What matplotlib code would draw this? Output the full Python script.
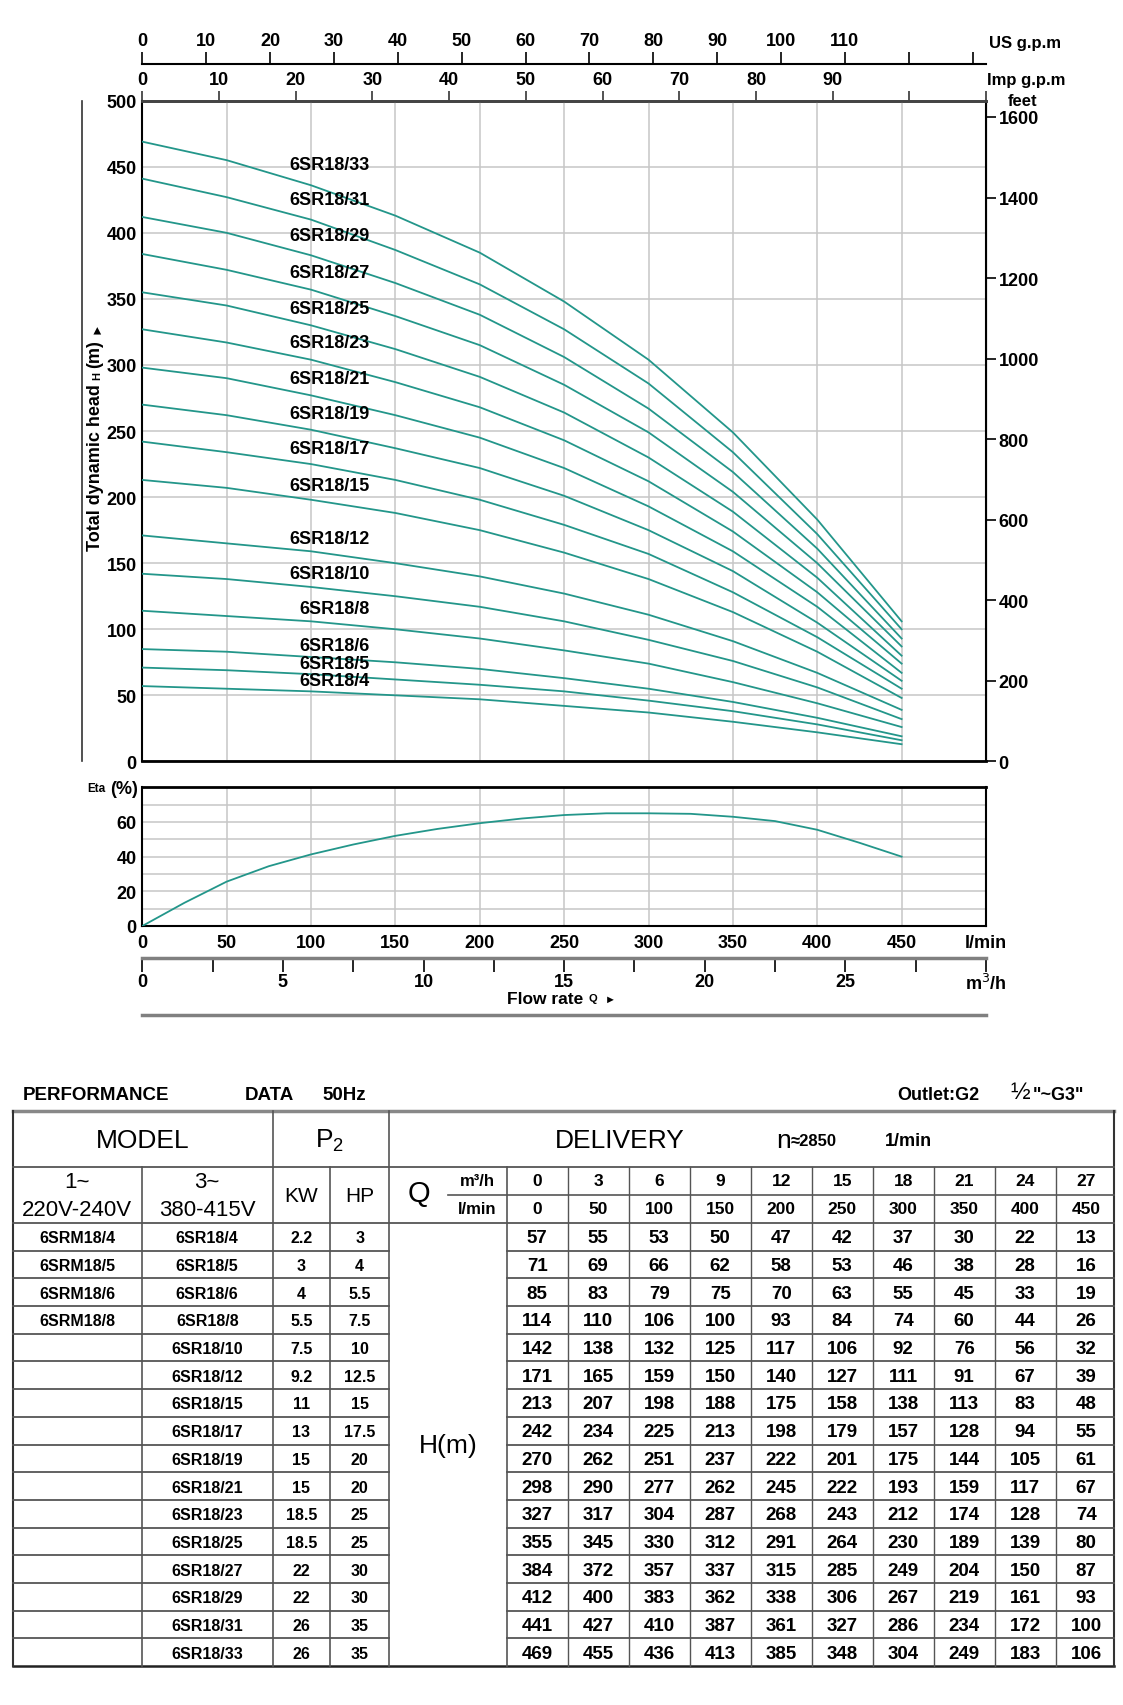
import numpy as np
import matplotlib
matplotlib.use('Agg')
import matplotlib.pyplot as plt

plt.rcParams['font.family'] = ['Liberation Sans', 'DejaVu Sans']

# ---- data ----
Q_m3h = [0, 3, 6, 9, 12, 15, 18, 21, 24, 27]
Q_lpm = [0, 50, 100, 150, 200, 250, 300, 350, 400, 450]

models_1ph = ['6SRM18/4', '6SRM18/5', '6SRM18/6', '6SRM18/8']
models_3ph = ['6SR18/4', '6SR18/5', '6SR18/6', '6SR18/8', '6SR18/10', '6SR18/12',
              '6SR18/15', '6SR18/17', '6SR18/19', '6SR18/21', '6SR18/23', '6SR18/25',
              '6SR18/27', '6SR18/29', '6SR18/31', '6SR18/33']
kw = ['2.2', '3', '4', '5.5', '7.5', '9.2', '11', '13', '15', '15', '18.5', '18.5',
      '22', '22', '26', '26']
hp = ['3', '4', '5.5', '7.5', '10', '12.5', '15', '17.5', '20', '20', '25', '25',
      '30', '30', '35', '35']

H_4 = [57, 55, 53, 50, 47, 42, 37, 30, 22, 13]
H_5 = [71, 69, 66, 62, 58, 53, 46, 38, 28, 16]
H_6 = [85, 83, 79, 75, 70, 63, 55, 45, 33, 19]
H_8 = [114, 110, 106, 100, 93, 84, 74, 60, 44, 26]
H_10 = [142, 138, 132, 125, 117, 106, 92, 76, 56, 32]
H_12 = [171, 165, 159, 150, 140, 127, 111, 91, 67, 39]
H_15 = [213, 207, 198, 188, 175, 158, 138, 113, 83, 48]
H_17 = [242, 234, 225, 213, 198, 179, 157, 128, 94, 55]
H_19 = [270, 262, 251, 237, 222, 201, 175, 144, 105, 61]
H_21 = [298, 290, 277, 262, 245, 222, 193, 159, 117, 67]
H_23 = [327, 317, 304, 287, 268, 243, 212, 174, 128, 74]
H_25 = [355, 345, 330, 312, 291, 264, 230, 189, 139, 80]
H_27 = [384, 372, 357, 337, 315, 285, 249, 204, 150, 87]
H_29 = [412, 400, 383, 362, 338, 306, 267, 219, 161, 93]
H_31 = [441, 427, 410, 387, 361, 327, 286, 234, 172, 100]
H_33 = [469, 455, 436, 413, 385, 348, 304, 249, 183, 106]
heads = [H_4, H_5, H_6, H_8, H_10, H_12, H_15, H_17, H_19, H_21, H_23, H_25,
         H_27, H_29, H_31, H_33]

# where the curve names sit (head value, m)
label_y = [61, 74, 88, 116, 142, 169, 209, 237, 263, 290, 317, 343, 370, 398, 425, 452]

# efficiency curve
eta_q = [0, 25, 50, 75, 100, 125, 150, 175, 200, 225, 250, 275, 300, 325, 350, 375, 400, 425, 450]
eta = [0, 13.4, 25.6, 34.5, 41.3, 47, 52, 56, 59.3, 62, 64, 65, 65, 64.7, 63, 60.5, 55.5, 48, 40]

TEAL = '#23968a'
W, H = 1123, 1706


def box(x0, y0, x1, y1):
    return [x0 / W, 1 - y1 / H, (x1 - x0) / W, (y1 - y0) / H]


fig = plt.figure(figsize=(W / 100, H / 100), dpi=100)

# ---- main head chart ----
ax = fig.add_axes(box(142.3, 101.7, 986, 762.4))
for h in heads:
    ax.plot(Q_lpm, h, color=TEAL, lw=1.3, zorder=3)
for name, y in zip(models_3ph, label_y):
    ax.text(135, y, name, ha='right', va='center', fontsize=13, weight='bold', zorder=4)
ax.set_xlim(0, 500)
ax.set_ylim(0, 500)
ax.set_xticks(range(0, 501, 50))
ax.set_xticklabels([])
ax.set_yticks(range(0, 501, 50))
ax.tick_params(length=0, labelsize=13, pad=4)
for t in ax.get_yticklabels():
    t.set_fontweight('bold')
ax.grid(color='#c6c6c6', lw=1.1)
ax.set_axisbelow(True)
ax.spines['top'].set_color('#444444')
ax.spines['top'].set_linewidth(2)
ax.spines['bottom'].set_linewidth(2)
ax.spines['left'].set_linewidth(1.5)
ax.spines['right'].set_linewidth(1.5)

imp = ax.secondary_xaxis('top', functions=(lambda x: x / 4.546, lambda x: x * 4.546))
imp.set_xticks(list(range(0, 101, 10)) + [500 / 4.546])
imp.set_xticklabels([str(v) for v in range(0, 91, 10)] + ['', ''])
imp.tick_params(length=7, width=1.3, color='#444444', labelsize=13, pad=2)
imp.spines['top'].set_color('#444444')
imp.spines['top'].set_linewidth(2)
imp.spines['bottom'].set_visible(False)
for t in imp.get_xticklabels():
    t.set_fontweight('bold')

us = ax.secondary_xaxis(1 + (101.7 - 65) / 660.7,
                        functions=(lambda x: x / 3.785, lambda x: x * 3.785))
us.set_xticks(range(0, 131, 10))
us.set_xticklabels([str(v) for v in range(0, 111, 10)] + ['', ''])
us.tick_params(length=9, width=1.2, labelsize=13, pad=2)
us.spines['top'].set_linewidth(1.5)
us.spines['bottom'].set_visible(False)
for t in us.get_xticklabels():
    t.set_fontweight('bold')

ft = ax.secondary_yaxis('right', functions=(lambda m: m / 0.3048, lambda f: f * 0.3048))
ft.set_yticks(range(0, 1601, 200))
ft.tick_params(length=7, width=1.2, labelsize=13, pad=2)
for t in ft.get_yticklabels():
    t.set_fontweight('bold')

# ---- efficiency chart ----
ax2 = fig.add_axes(box(142.3, 788.3, 986, 927))
ax2.plot(eta_q, eta, color=TEAL, lw=1.3, zorder=3)
ax2.set_xlim(0, 500)
ax2.set_ylim(0, 80)
ax2.set_xticks(range(0, 501, 50))
ax2.set_xticklabels([str(v) for v in range(0, 451, 50)] + ['l/min'])
ax2.set_yticks([0, 20, 40, 60])
ax2.set_yticks([10, 30, 50, 70], minor=True)
ax2.tick_params(which='both', length=0, labelsize=13, pad=4)
ax2.tick_params(axis='x', pad=6)
for t in ax2.get_xticklabels() + ax2.get_yticklabels():
    t.set_fontweight('bold')
ax2.grid(which='both', color='#c6c6c6', lw=1.1)
ax2.set_axisbelow(True)
for s in ax2.spines.values():
    s.set_linewidth(1.5)
ax2.spines['top'].set_linewidth(2)

m3 = ax2.secondary_xaxis(-(959 - 927) / 138.7, functions=(lambda x: x * 0.06, lambda x: x / 0.06))
m3.set_xticks(range(0, 31, 5))
m3.set_xticklabels(['0', '5', '10', '15', '20', '25', 'm$^3$/h'])
m3.set_xticks(np.arange(2.5, 30, 5), minor=True)
m3.tick_params(which='both', length=10, width=1.2, labelsize=13, pad=1)
m3.spines['bottom'].set_color('#808080')
m3.spines['bottom'].set_linewidth(2.5)
m3.spines['top'].set_visible(False)
for t in m3.get_xticklabels():
    t.set_fontweight('bold')

# ---- overlay in pixel coords for loose text and the table ----
ov = fig.add_axes([0, 0, 1, 1], zorder=10)
ov.set_xlim(0, W)
ov.set_ylim(H, 0)
ov.axis('off')
ov.patch.set_visible(False)

ov.plot([81.7, 81.7], [102, 762], color='#333333', lw=1.2)
ov.plot([142.3, 986], [1016, 1016], color='#808080', lw=2.5)

ov.text(989, 43, 'US g.p.m', ha='left', va='center', fontsize=12, weight='bold')
ov.text(987, 80, 'Imp g.p.m', ha='left', va='center', fontsize=12, weight='bold')
ov.text(1023, 101, 'feet', ha='center', va='center', fontsize=12, weight='bold')

# y label with small H
t1 = ov.text(95, 551, 'Total dynamic head', rotation=90, ha='center', va='bottom',
             fontsize=13, weight='bold')
t2 = ov.annotate('H', xy=(0.5, 1), xycoords=t1, xytext=(1.5, 3), textcoords='offset points',
                 rotation=90, ha='center', va='bottom', fontsize=8, weight='bold')
t3 = ov.annotate('(m)', xy=(0.5, 1), xycoords=t2, xytext=(-1.5, 3), textcoords='offset points',
                 rotation=90, ha='center', va='bottom', fontsize=13, weight='bold')
ov.annotate('\u25ba', xy=(0.5, 1), xycoords=t3, xytext=(1, 4), textcoords='offset points',
            rotation=90, ha='center', va='bottom', fontsize=9)

# eta label
e1 = ov.text(138, 789, '(%)', ha='right', va='center', fontsize=13, weight='bold')
ov.annotate('Eta', xy=(0, 0.12), xycoords=e1, xytext=(-3, 0), textcoords='offset points',
            ha='right', va='bottom', fontsize=8.5, weight='bold')

# flow rate label
f1 = ov.text(507, 1000, 'Flow rate', ha='left', va='center', fontsize=12.5, weight='bold')
f2 = ov.annotate('Q', xy=(1, 0.2), xycoords=f1, xytext=(4, 0), textcoords='offset points',
                 ha='left', va='bottom', fontsize=8, weight='bold')
ov.annotate('\u25ba', xy=(1, 0), xycoords=f2, xytext=(5, 0), textcoords='offset points',
            ha='left', va='bottom', fontsize=8)

# ---- table ----
ov.text(23, 1095, 'PERFORMANCE', ha='left', va='center', fontsize=13.5, weight='bold')
ov.text(245, 1095, 'DATA', ha='left', va='center', fontsize=13.5, weight='bold')
ov.text(322, 1095, '50Hz', ha='left', va='center', fontsize=13.5, weight='bold')
ov.text(897, 1095, 'Outlet:G2', ha='left', va='center', fontsize=13, weight='bold')
ov.text(1010, 1093, '\u00bd', ha='left', va='center', fontsize=17)
ov.text(1033, 1095, '"~G3"', ha='left', va='center', fontsize=13, weight='bold')

TL, TR = 12.7, 1114
top, r1, r2, bot = 1112, 1168, 1224, 1667
data_x0 = 506.7
cw = 61
rh = (bot - r2) / len(models_3ph)
LC = '#555555'

ov.plot([TL, TR], [top, top], color='#888888', lw=2.5)
ov.plot([TL, TR], [bot, bot], color='#222222', lw=1.8)
ov.plot([TL, TL], [top, bot], color='#333333', lw=1.5)
ov.plot([TR, TR], [top, bot], color='#333333', lw=1.5)
ov.plot([TL, TR], [r1, r1], color=LC, lw=1.3)
ov.plot([TL, TR], [r2, r2], color=LC, lw=1.3)
ov.plot([448, TR], [(r1 + r2) / 2, (r1 + r2) / 2], color=LC, lw=1.2)
ov.plot([141.7, 141.7], [r1, bot], color=LC, lw=1.2)
ov.plot([272.7, 272.7], [top, bot], color=LC, lw=1.2)
ov.plot([330, 330], [r1, bot], color=LC, lw=1.2)
ov.plot([389.3, 389.3], [top, bot], color=LC, lw=1.2)
ov.plot([506.7, 506.7], [r1, bot], color=LC, lw=1.2)
for k in range(1, len(Q_lpm)):
    xk = data_x0 + cw * k
    ov.plot([xk, xk], [r1, bot], color=LC, lw=1.0)
for i in range(1, len(models_3ph)):
    yk = r2 + rh * i
    ov.plot([TL, 389.3], [yk, yk], color=LC, lw=1.3)
    ov.plot([506.7, TR], [yk, yk], color=LC, lw=1.3)

ov.text(142.5, 1141, 'MODEL', ha='center', va='center', fontsize=19)
ov.text(330, 1141, 'P$_\\mathregular{2}$', ha='center', va='center', fontsize=19)
ov.text(620, 1141, 'DELIVERY', ha='center', va='center', fontsize=19)
n1 = ov.text(776, 1141, 'n', ha='left', va='center', fontsize=19)
ov.annotate('\u22482850', xy=(1, 0.18), xycoords=n1, xytext=(0, 0), textcoords='offset points',
            ha='left', va='bottom', fontsize=12, weight='bold')
ov.text(885, 1141, '1/min', ha='left', va='center', fontsize=13, weight='bold')

ov.text(77.2, 1182, '1~', ha='center', va='center', fontsize=16)
ov.text(77.2, 1210, '220V-240V', ha='center', va='center', fontsize=16)
ov.text(207.2, 1182, '3~', ha='center', va='center', fontsize=16)
ov.text(207.2, 1210, '380-415V', ha='center', va='center', fontsize=16)
ov.text(301.4, 1196, 'KW', ha='center', va='center', fontsize=15)
ov.text(359.7, 1196, 'HP', ha='center', va='center', fontsize=15)
ov.text(419, 1194, 'Q', ha='center', va='center', fontsize=21)
ov.text(477, 1182, 'm\u00b3/h', ha='center', va='center', fontsize=12, weight='bold')
ov.text(477, 1210, 'l/min', ha='center', va='center', fontsize=12, weight='bold')
ov.text(448, 1446, 'H(m)', ha='center', va='center', fontsize=19)

for k, (qm, ql) in enumerate(zip(Q_m3h, Q_lpm)):
    xc = data_x0 + cw * (k + 0.5)
    ov.text(xc, 1182, str(qm), ha='center', va='center', fontsize=12.5, weight='bold')
    ov.text(xc, 1210, str(ql), ha='center', va='center', fontsize=12.5, weight='bold')

for i, name in enumerate(models_3ph):
    yc = r2 + rh * (i + 0.5) + 1
    if i < len(models_1ph):
        ov.text(77.2, yc, models_1ph[i], ha='center', va='center', fontsize=11.5, weight='bold')
    ov.text(207.2, yc, name, ha='center', va='center', fontsize=11.5, weight='bold')
    ov.text(301.4, yc, kw[i], ha='center', va='center', fontsize=11.5, weight='bold')
    ov.text(359.7, yc, hp[i], ha='center', va='center', fontsize=11.5, weight='bold')
    for k, v in enumerate(heads[i]):
        ov.text(data_x0 + cw * (k + 0.5), yc, str(v), ha='center', va='center',
                fontsize=13.5, weight='bold')

fig.savefig('out.png', dpi=100)
